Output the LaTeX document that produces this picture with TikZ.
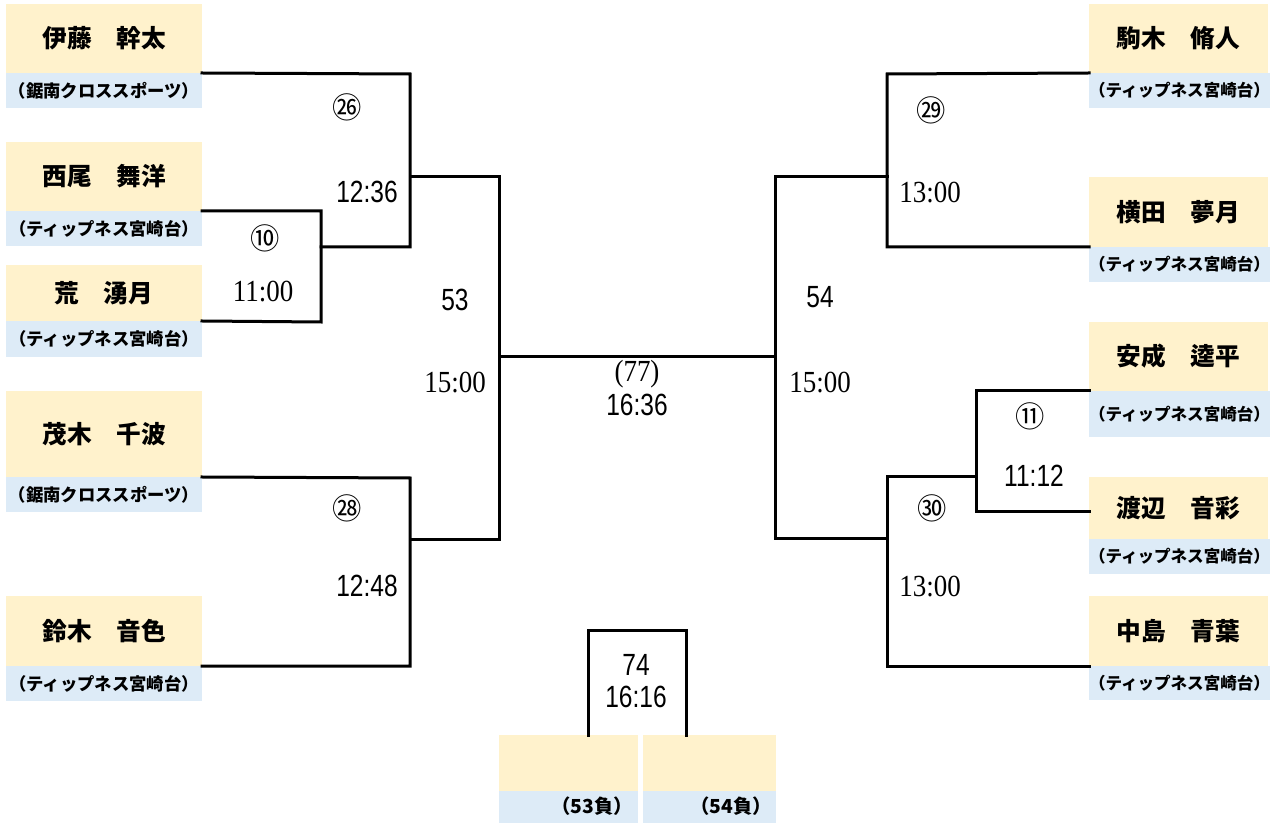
\documentclass[tikz,border=0pt]{standalone}
\usepackage{fontspec}
\newfontfamily\jp{Noto Sans CJK JP}
\newfontfamily\jph{Noto Sans CJK JP Black}
\newfontfamily\nsans[FakeStretch=0.8]{Liberation Sans}
\newfontfamily\nserif[FakeStretch=0.88]{Liberation Serif}
\definecolor{namefill}{HTML}{FFF2CC}
\definecolor{clubfill}{HTML}{DDEBF7}
\tikzset{
  namebox/.style={fill=namefill, draw=none, anchor=north west, inner sep=0pt, outer sep=0pt,
    font=\jph\fontsize{18.5}{20}\selectfont, align=center},
  clubbox/.style={fill=clubfill, draw=none, anchor=north west, inner sep=0pt, outer sep=0pt,
    font=\jp\bfseries\fontsize{13}{14}\selectfont, align=center},
  rclubbox/.style={clubbox, font=\jp\bfseries\fontsize{12.4}{14}\selectfont},
  br/.style={line width=2.25pt, line join=miter, line cap=rect},
  tsans/.style={font=\nsans\fontsize{23}{24}\selectfont, inner sep=0pt},
  tserif/.style={font=\nserif\fontsize{23}{24}\selectfont, inner sep=0pt},
  circ/.style={font=\jp\fontsize{22}{24}\selectfont, inner sep=0pt},
  losstext/.style={font=\jp\bfseries\fontsize{14.5}{16}\selectfont, anchor=east, inner sep=0pt},
}
\begin{document}
\begin{tikzpicture}[x=0.75pt, y=-0.75pt]
\useasboundingbox (0,0) rectangle (1272,823);
\fill[white] (0,0) rectangle (1272,823);
% ---- left entries
\node[namebox, minimum width=196*0.75pt, minimum height=69*0.75pt] (L1n) at (6,4) {伊藤　幹太};
\node[clubbox, minimum width=196*0.75pt, minimum height=35*0.75pt] (L1c) at (6,73) {（鋸南クロススポーツ）};
\node[namebox, minimum width=196*0.75pt, minimum height=69*0.75pt] (L2n) at (6,142) {西尾　舞洋};
\node[clubbox, minimum width=196*0.75pt, minimum height=35*0.75pt] (L2c) at (6,211) {（ティップネス宮崎台）};
\node[namebox, minimum width=196*0.75pt, minimum height=56*0.75pt] (L3n) at (6,265) {荒　湧月};
\node[clubbox, minimum width=196*0.75pt, minimum height=36*0.75pt] (L3c) at (6,321) {（ティップネス宮崎台）};
\node[namebox, minimum width=196*0.75pt, minimum height=86*0.75pt] (L4n) at (6,391) {茂木　千波};
\node[clubbox, minimum width=196*0.75pt, minimum height=35*0.75pt] (L4c) at (6,477) {（鋸南クロススポーツ）};
\node[namebox, minimum width=196*0.75pt, minimum height=70*0.75pt] (L5n) at (6,596) {鈴木　音色};
\node[clubbox, minimum width=196*0.75pt, minimum height=35*0.75pt] (L5c) at (6,666) {（ティップネス宮崎台）};
% ---- right entries
\node[namebox, minimum width=179*0.75pt, minimum height=69*0.75pt] (R1n) at (1089,4) {駒木　脩人};
\node[rclubbox, minimum width=179*0.75pt, minimum height=35*0.75pt] (R1c) at (1089,73) {（ティップネス宮崎台）};
\node[namebox, minimum width=179*0.75pt, minimum height=70*0.75pt] (R2n) at (1089,177) {横田　夢月};
\node[rclubbox, minimum width=179*0.75pt, minimum height=35*0.75pt] (R2c) at (1089,247) {（ティップネス宮崎台）};
\node[namebox, minimum width=179*0.75pt, minimum height=69*0.75pt] (R3n) at (1089,322) {安成　逵平};
\node[rclubbox, minimum width=179*0.75pt, minimum height=46*0.75pt] (R3c) at (1089,391) {（ティップネス宮崎台）};
\node[namebox, minimum width=179*0.75pt, minimum height=62*0.75pt] (R4n) at (1089,477) {渡辺　音彩};
\node[rclubbox, minimum width=179*0.75pt, minimum height=35*0.75pt] (R4c) at (1089,539) {（ティップネス宮崎台）};
\node[namebox, minimum width=179*0.75pt, minimum height=70*0.75pt] (R5n) at (1089,596) {中島　青葉};
\node[rclubbox, minimum width=179*0.75pt, minimum height=34*0.75pt] (R5c) at (1089,666) {（ティップネス宮崎台）};
% ---- third place entries
\node[namebox, minimum width=139*0.75pt, minimum height=56*0.75pt] (B1n) at (499,735) {};
\node[clubbox, minimum width=139*0.75pt, minimum height=32*0.75pt] (B1c) at (499,791) {};
\node[namebox, minimum width=133*0.75pt, minimum height=56*0.75pt] (B2n) at (643,735) {};
\node[clubbox, minimum width=133*0.75pt, minimum height=32*0.75pt] (B2c) at (643,791) {};
\node[losstext] (B1t) at (633,806) {（53負）};
\node[losstext] (B2t) at (772,806) {（54負）};
% ---- junction coordinates
\coordinate (a26) at (410,74);
\coordinate (b26) at (410,247);
\coordinate (c10) at (321,247);
\coordinate (a10) at (321,211);
\coordinate (b10) at (321,322);
\coordinate (w26) at (410,177);
\coordinate (a28) at (410,478);
\coordinate (b28) at (410,666);
\coordinate (w28) at (410,540);
\coordinate (s53) at (499,177);
\coordinate (e53) at (499,540);
\coordinate (m53) at (499,357);
\coordinate (m54) at (775,357);
\coordinate (s54) at (775,177);
\coordinate (e54) at (775,539);
\coordinate (a29) at (887,74);
\coordinate (b29) at (887,247);
\coordinate (w29) at (887,177);
\coordinate (a30) at (887,477);
\coordinate (b30) at (887,666);
\coordinate (w30) at (887,539);
\coordinate (a11) at (976,391);
\coordinate (b11) at (976,512);
\coordinate (w11) at (976,477);
\coordinate (t1) at (588,735);
\coordinate (t2) at (588,630);
\coordinate (t3) at (686,630);
\coordinate (t4) at (686,735);
% ---- bracket lines
\draw[br] (L1n.south east) -- (a26) -- (b26) -- (c10);
\draw[br] (L2n.south east) -- (a10) -- (b10) -- (L3n.south east);
\draw[br] (w26) -- (s53);
\draw[br] (L4n.south east) -- (a28) -- (b28) -- (L5n.south east);
\draw[br] (w28) -- (e53);
\draw[br] (s53) -- (e53);
\draw[br] (m53) -- (m54);
\draw[br] (s54) -- (e54);
\draw[br] (s54) -- (w29);
\draw[br] (R1n.south west) -- (a29) -- (b29) -- (R2n.south west);
\draw[br] (e54) -- (w30);
\draw[br] (w11) -- (a30) -- (b30) -- (R5n.south west);
\draw[br] (R3n.south west) -- (a11) -- (b11) -- (R4n.west |- b11);
\draw[br] (t1) -- (t2) -- (t3) -- (t4);
% ---- labels
\node[circ] (n26) at (347,107) {㉖};
\node[tsans] (t26) at (367,192) {12:36};
\node[circ] (n10) at (265,238) {⑩};
\node[tserif] (t10) at (263,292) {11:00};
\node[tsans] (n53) at (455,300) {53};
\node[tserif] (t53) at (455,383) {15:00};
\node[tserif] (n77) at (637,374) {(77)};
\node[tsans] (t77) at (637,405) {16:36};
\node[circ] (n28) at (347,508) {㉘};
\node[tsans] (t28) at (367,586) {12:48};
\node[tsans] (n54) at (820,297) {54};
\node[tserif] (t54) at (820,383) {15:00};
\node[circ] (n29) at (931,110) {㉙};
\node[tserif] (t29) at (930,193) {13:00};
\node[circ] (n11) at (1030,416) {⑪};
\node[tsans] (t11) at (1034,476) {11:12};
\node[circ] (n30) at (932,508) {㉚};
\node[tserif] (t30) at (930,587) {13:00};
\node[tsans] (n74) at (636,665) {74};
\node[tsans] (t74) at (636,697) {16:16};
\end{tikzpicture}
\end{document}
